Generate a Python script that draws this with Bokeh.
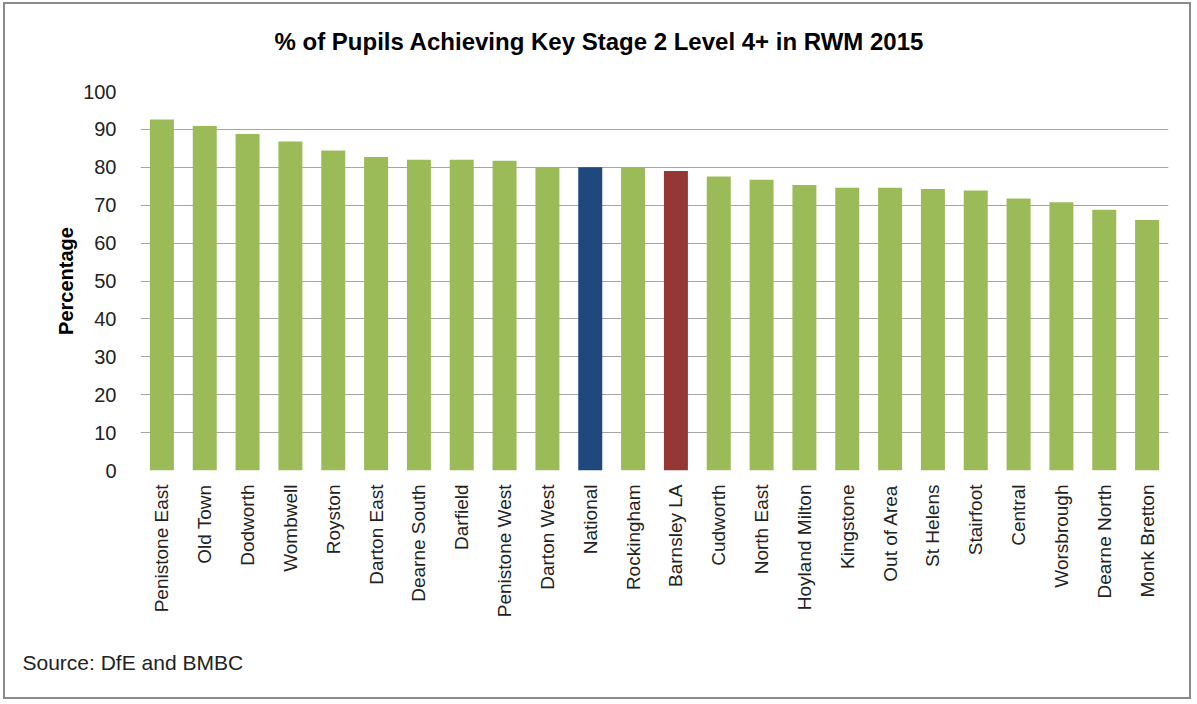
import math
from bokeh.plotting import figure
from bokeh.models import ColumnDataSource, Title, FixedTicker
from bokeh.embed import file_html
from bokeh.resources import INLINE

areas = ["Penistone East", "Old Town", "Dodworth", "Wombwell", "Royston", "Darton East",
         "Dearne South", "Darfield", "Penistone West", "Darton West", "National",
         "Rockingham", "Barnsley LA", "Cudworth", "North East", "Hoyland Milton",
         "Kingstone", "Out of Area", "St Helens", "Stairfoot", "Central", "Worsbrough",
         "Dearne North", "Monk Bretton"]
percentages = [92.6, 90.9, 88.8, 86.8, 84.4, 82.7, 82.0, 82.0, 81.7, 80.1, 80.0,
               80.0, 79.0, 77.6, 76.7, 75.3, 74.6, 74.6, 74.3, 73.9, 71.8, 70.8,
               68.8, 66.1]
y_ticks = [0, 10, 20, 30, 40, 50, 60, 70, 80, 90, 100]

GREEN = "#9BBB59"
BLUE = "#1F497D"
RED = "#953735"
colors = [BLUE if a == "National" else RED if a == "Barnsley LA" else GREEN for a in areas]

src = ColumnDataSource(dict(area=areas, pct=percentages, color=colors))

FONT = "Liberation Sans"

p = figure(x_range=areas, y_range=(0, 100), width=1188, height=697,
           output_backend="svg", toolbar_location=None,
           min_border_left=135, min_border_right=25, min_border_top=87, min_border_bottom=230)
p.styles = {"border": "2px solid #8a8a8a", "margin": "2px 0px 0px 3px"}

p.vbar(x="area", top="pct", width=0.56, color="color", line_color=None, source=src)

p.outline_line_color = None
p.background_fill_color = "white"
p.border_fill_color = "white"
p.xgrid.grid_line_color = None
p.ygrid.grid_line_color = "#a6a6a6"
p.ygrid.grid_line_width = 1
p.ygrid.ticker = FixedTicker(ticks=y_ticks)

p.yaxis.ticker = FixedTicker(ticks=y_ticks)
p.yaxis.axis_line_color = None
p.yaxis.major_tick_line_color = None
p.yaxis.minor_tick_line_color = None
p.yaxis.major_label_text_font = FONT
p.yaxis.major_label_text_font_size = "20px"
p.yaxis.major_label_text_color = "#222222"
p.yaxis.major_label_standoff = 18
p.yaxis.axis_label = "Percentage"
p.yaxis.axis_label_text_font = FONT
p.yaxis.axis_label_text_font_size = "20px"
p.yaxis.axis_label_text_font_style = "bold"
p.yaxis.axis_label_text_color = "black"
p.yaxis.axis_label_standoff = 3

p.xaxis.axis_line_color = None
p.xaxis.major_tick_line_color = None
p.xaxis.minor_tick_line_color = None
p.xaxis.major_label_orientation = math.pi / 2
p.xaxis.major_label_text_font = FONT
p.xaxis.major_label_text_font_size = "19px"
p.xaxis.major_label_text_color = "#222222"
p.xaxis.major_label_standoff = 8

# spacer panel between the frame and the title (first "above" item sits nearest the frame)
spacer = Title(text=" ", text_font_size="1px", standoff=34)
p.add_layout(spacer, "above")

title = Title(text="% of Pupils Achieving Key Stage 2 Level 4+ in RWM 2015",
              align="left", offset=134, standoff=0,
              text_font=FONT, text_font_size="24px", text_font_style="bold",
              text_color="black")
p.add_layout(title, "above")

source_note = Title(text="Source: DfE and BMBC", align="left", offset=-118, standoff=56,
                    text_font=FONT, text_font_size="21px", text_font_style="normal",
                    text_color="#222222")
p.add_layout(source_note, "below")

open("out.html", "w").write(file_html(p, INLINE))
